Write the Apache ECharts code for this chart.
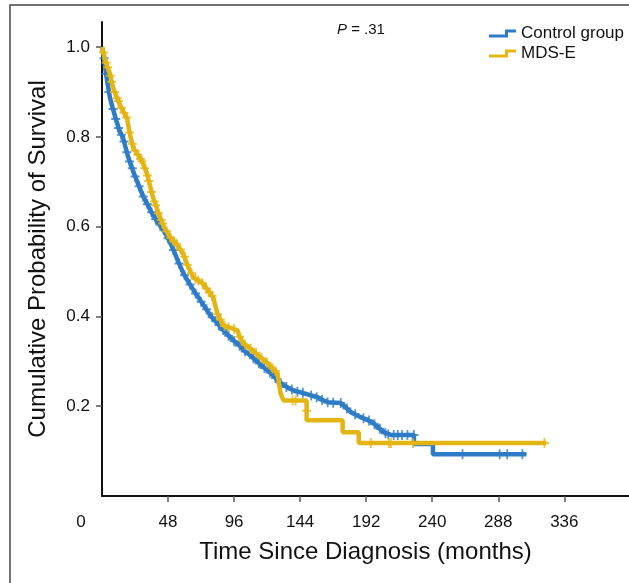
<!DOCTYPE html>
<html>
<head>
<meta charset="utf-8">
<script src="https://cdn.jsdelivr.net/npm/echarts@6/dist/echarts.min.js"></script>
<style>html,body{margin:0;padding:0;background:#fff}#c{width:629px;height:583px}</style>
</head>
<body>
<div id="c"></div>
<script>
// ---- data ----
var seriesNames = ['Control group', 'MDS-E'];
var xTicks = [0, 48, 96, 144, 192, 240, 288, 336];
var yTicks = [0.2, 0.4, 0.6, 0.8, 1.0];
var pValueText = '.31';
var xTitle = 'Time Since Diagnosis (months)';
var yTitle = 'Cumulative Probability of Survival';

// Control group survival curve [months, survival]
var controlCurve = [
  [0,1.0],[1,0.985],[2,0.962],[3,0.94],[4,0.92],[5.8,0.887],[8,0.862],[10,0.84],[12.5,0.815],
  [15.3,0.798],[17,0.778],[19,0.755],[22.6,0.724],[25,0.705],[28,0.682],[30,0.667],[32.8,0.651],
  [36,0.632],[40,0.612],[43.7,0.597],[47,0.58],[51,0.555],[55,0.525],[59,0.497],[63,0.476],
  [67,0.456],[71.4,0.436],[75,0.42],[79,0.401],[83.8,0.385],[88,0.37],[92,0.357],[95.5,0.347],
  [100,0.335],[104,0.322],[107.9,0.313],[112,0.302],[116,0.29],[120.3,0.28],[124,0.27],
  [128,0.256],[131.9,0.247],[136,0.24],[140,0.234],[144.3,0.231],[150,0.226],[156.7,0.22],
  [160,0.214],[164,0.209],[173.5,0.207],[177,0.198],[180.8,0.187],[185,0.18],[190.2,0.173],
  [194,0.168],[197.5,0.162],[201,0.152],[204.8,0.142],[209.9,0.136],[226.7,0.136],[226.7,0.116],
  [240.5,0.116],[240.5,0.093],[308.3,0.093]
];
var controlCensored = [
  [1.5,0.975],[3,0.94],[5,0.9],[8,0.862],[10,0.84],[12,0.82],[14,0.805],[16,0.79],[18,0.766],
  [20,0.745],[22,0.73],[24,0.712],[27,0.69],[30,0.667],[33,0.65],[36,0.632],[39,0.617],[42,0.605],
  [45,0.592],[48,0.574],[52,0.548],[56,0.518],[60,0.492],[64,0.471],[68,0.451],[72,0.433],
  [76,0.416],[80,0.398],[85,0.381],[88,0.37],[92,0.357],[96,0.345],[100,0.335],[104,0.322],
  [110,0.307],[114,0.296],[118,0.285],[122,0.275],[126,0.263],[130,0.251],[134,0.243],[138,0.237],
  [142,0.232],[146,0.23],[152,0.224],[156,0.22],[160,0.214],[164,0.209],[168,0.208],[173.5,0.207],
  [178,0.195],[184,0.182],[190,0.173],[194,0.168],[198,0.16],[202,0.15],[206,0.14],[208,0.137],
  [212,0.136],[215,0.136],[218,0.136],[222,0.136],[226.7,0.136],
  [262,0.093],[289,0.093],[294.5,0.093],[305.5,0.093]
];

// MDS-E survival curve [months, survival]
var mdsCurve = [
  [0,1.0],[2,0.975],[4,0.955],[5.8,0.94],[8,0.91],[10.9,0.887],[14,0.865],[18.2,0.842],
  [20,0.81],[22.6,0.776],[25,0.765],[27.7,0.753],[30,0.74],[32.8,0.718],[35,0.69],[37.2,0.664],
  [40,0.64],[42.3,0.62],[45,0.6],[49.6,0.576],[54,0.562],[59,0.54],[62,0.515],[66.3,0.487],
  [70,0.48],[73.6,0.473],[77,0.458],[80.9,0.442],[83.8,0.407],[88.2,0.38],[94,0.374],[98.4,0.369],
  [100,0.355],[102.8,0.34],[108,0.328],[115.2,0.309],[120,0.297],[127.6,0.273],[129.7,0.229],
  [131.9,0.213],[148.7,0.213],[148.7,0.169],[174.9,0.169],[174.9,0.142],[186.6,0.142],
  [186.6,0.118],[322.9,0.118]
];
var mdsCensored = [
  [1,0.988],[3,0.965],[4,0.955],[6,0.936],[7,0.923],[9,0.9],[11,0.886],[12,0.88],[14,0.865],
  [16,0.854],[18,0.843],[20,0.81],[22,0.785],[24,0.77],[26,0.76],[28,0.751],[29,0.746],[31,0.73],
  [33,0.714],[34,0.702],[36,0.677],[38,0.656],[39,0.648],[41,0.63],[43,0.615],[44,0.607],[47,0.59],
  [50,0.575],[52,0.568],[54,0.562],[57,0.549],[60,0.533],[62,0.515],[65,0.496],[68,0.484],
  [70,0.48],[73,0.474],[76,0.462],[78,0.454],[80,0.446],[84,0.405],[86,0.393],[89,0.379],
  [92,0.376],[96,0.372],[100,0.355],[104,0.337],[108,0.328],[112,0.319],[116,0.307],[120,0.297],
  [124,0.284],[126,0.278],[138.5,0.213],[140.7,0.213],[148.7,0.19],[195.3,0.118],[208.5,0.118],
  [210,0.118],[226,0.118],[321.5,0.118]
];

// ---- chart ----
var blue = '#2E7CC6';
var gold = '#E3B513';
var regular = '"Liberation Sans",Arial,sans-serif';
var plusPath = 'path://M4,0 H6 V10 H4 Z M0,4 H10 V6 H0 Z';
var stepIcon = 'path://M0,5 L16,5 L16,0 L27,0 L27,3 L19,3 L19,8 L0,8 Z';

var chart = echarts.init(document.getElementById('c'), null, {renderer: 'canvas'});
chart.setOption({
  animation: false,
  backgroundColor: '#fff',
  grid: {left: 102, top: 22, right: 0, bottom: 87, containLabel: false},
  xAxis: {
    type: 'value', min: 0, max: 383,
    name: xTitle, nameLocation: 'middle', nameGap: 44,
    nameTextStyle: {fontFamily: regular, fontSize: 24, color: '#111'},
    axisLine: {show: true, lineStyle: {color: '#111', width: 2}},
    axisTick: {show: true, customValues: xTicks.slice(1), length: 6, lineStyle: {color: '#555', width: 1.5}},
    axisLabel: {
      customValues: xTicks, margin: 18, fontFamily: regular, fontSize: 17, color: '#111',
      formatter: function (v) { return v === 0 ? '{z|0}' : String(v); },
      rich: {z: {fontFamily: regular, fontSize: 17, color: '#111', padding: [0, 42, 0, 0]}}
    },
    splitLine: {show: false}
  },
  yAxis: {
    type: 'value', min: 0, max: 1.056,
    name: yTitle, nameLocation: 'middle', nameGap: 52, nameRotate: 90,
    nameTextStyle: {fontFamily: regular, fontSize: 24, color: '#111'},
    axisLine: {show: true, lineStyle: {color: '#111', width: 2}},
    axisTick: {show: true, customValues: yTicks, length: 6, lineStyle: {color: '#555', width: 1.5}},
    axisLabel: {
      customValues: yTicks, margin: 12, fontFamily: regular, fontSize: 17, color: '#111',
      formatter: function (v) { return v.toFixed(1); }
    },
    splitLine: {show: false}
  },
  legend: {
    orient: 'vertical', left: 484, top: 20, itemWidth: 27, itemHeight: 8, itemGap: 3,
    symbolKeepAspect: false,
    textStyle: {fontFamily: regular, fontSize: 17, color: '#111'},
    data: [
      {name: seriesNames[0], icon: stepIcon, itemStyle: {color: blue}},
      {name: seriesNames[1], icon: stepIcon, itemStyle: {color: gold}}
    ]
  },
  graphic: [
    {type: 'polyline', shape: {points: [[10, 584], [10, 5], [630, 5]]}, style: {stroke: '#444', lineWidth: 1.5, fill: null}, silent: true},
    {type: 'text', left: 337, top: 22, style: {
      text: '{i|P} = ' + pValueText,
      rich: {i: {fontStyle: 'italic', fontFamily: regular, fontSize: 15, fill: '#111'}},
      fontFamily: regular, fontSize: 15, fill: '#111'
    }}
  ],
  series: [
    {name: seriesNames[0], type: 'line', data: controlCurve, showSymbol: false, symbol: 'none',
     lineStyle: {color: blue, width: 4.5}, itemStyle: {color: blue}, z: 2},
    {name: seriesNames[0], type: 'scatter', data: controlCensored, symbol: plusPath, symbolSize: [9, 10],
     itemStyle: {color: blue}, z: 3},
    {name: seriesNames[1], type: 'line', data: mdsCurve, showSymbol: false, symbol: 'none',
     lineStyle: {color: gold, width: 4.5}, itemStyle: {color: gold}, z: 4},
    {name: seriesNames[1], type: 'scatter', data: mdsCensored, symbol: plusPath, symbolSize: [9, 10],
     itemStyle: {color: gold}, z: 5}
  ]
});
</script>
</body>
</html>
